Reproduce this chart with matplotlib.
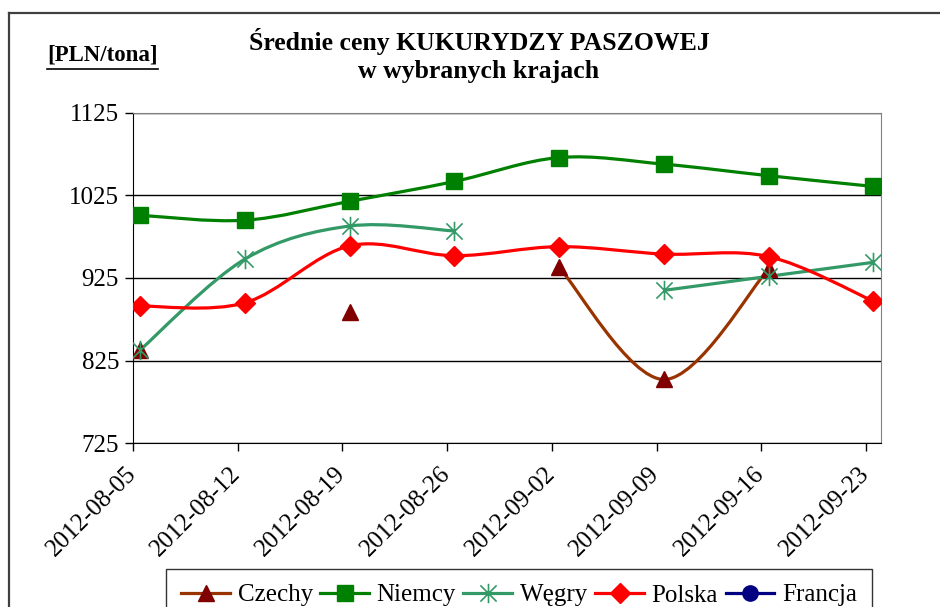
import numpy as np
import matplotlib
matplotlib.use('Agg')
from matplotlib import pyplot as plt
from matplotlib.path import Path
from matplotlib.patches import PathPatch
from matplotlib.lines import Line2D
import matplotlib.transforms as mtransforms

plt.rcParams['font.family'] = ['Liberation Serif', 'DejaVu Serif']

dates = ['2012-08-05', '2012-08-12', '2012-08-19', '2012-08-26',
         '2012-09-02', '2012-09-09', '2012-09-16', '2012-09-23']
czechy = [838, np.nan, 884, np.nan, 938, 802, 936, np.nan]
niemcy = [1001, 995, 1018, 1042, 1071, 1063, 1049, 1036]
wegry = [838, 948, 988, 982, np.nan, 910, 927, 944]
polska = [891, 895, 964, 952, 963, 954, 951, 897]
francja = [np.nan] * 8

# asterisk marker like the Excel star
star = Path([(-1, -1), (1, 1), (-1, 1), (1, -1), (0, -1.2), (0, 1.2)],
            [Path.MOVETO, Path.LINETO, Path.MOVETO, Path.LINETO, Path.MOVETO, Path.LINETO])


def smooth_path(xs, ys):
    # Catmull-Rom style bezier through the points (Excel "smoothed line")
    pts = np.column_stack([xs, ys])
    n = len(pts)
    verts = [pts[0]]
    codes = [Path.MOVETO]
    for i in range(n - 1):
        p0 = pts[i - 1] if i > 0 else pts[i]
        p1 = pts[i]
        p2 = pts[i + 1]
        p3 = pts[i + 2] if i + 2 < n else pts[i + 1]
        verts += [p1 + (p2 - p0) / 6, p2 - (p3 - p1) / 6, p2]
        codes += [Path.CURVE4] * 3
    return Path(verts, codes)


def draw_series(ax, x, y, lc, mc, marker, ms, mew=1.0):
    y = np.asarray(y, dtype=float)
    ok = ~np.isnan(y)
    i = 0
    while i < len(y):
        if ok[i]:
            j = i
            while j + 1 < len(y) and ok[j + 1]:
                j += 1
            if j > i:
                ax.add_patch(PathPatch(smooth_path(x[i:j + 1], y[i:j + 1]),
                                       fill=False, edgecolor=lc, lw=2.3, zorder=3))
            i = j + 1
        else:
            i += 1
    ax.plot(x, y, ls='none', marker=marker, ms=ms, color=mc, mec=mc, mew=mew, zorder=4)


fig = plt.figure(figsize=(9.4, 6.07), dpi=100)
ax = fig.add_axes([133 / 940, 1 - 443 / 607, (881 - 133) / 940, (443 - 113) / 607])

x = np.arange(len(dates)) + 0.07

series = [
    ('Czechy', czechy, '#993300', '#800000', '^', 12, 1.0),
    ('Niemcy', niemcy, '#008000', '#008000', 's', 11, 1.0),
    ('Węgry', wegry, '#339966', '#339966', star, 14, 1.2),
    ('Polska', polska, '#ff0000', '#ff0000', 'D', 10, 1.0),
    ('Francja', francja, '#000080', '#000080', 'o', 11, 1.0),
]
handles = []
for name, vals, lc, mc, mk, ms, mew in series:
    draw_series(ax, x, vals, lc, mc, mk, ms, mew)
    handles.append(Line2D([], [], color=lc, lw=2.3, marker=mk, ms=ms,
                          mfc=mc, mec=mc, mew=mew, label=name))

ax.set_xlim(0, 7.144)
ax.set_ylim(725, 1125)
ax.set_yticks([725, 825, 925, 1025, 1125])
ax.set_xticks(np.arange(len(dates)))
ax.set_xticklabels(dates, rotation=45, ha='right', va='top', rotation_mode='anchor')
ax.tick_params(labelsize=18, direction='out', length=6, width=1, pad=4, color='black')
ax.tick_params(axis='x', pad=8)
shift = mtransforms.ScaledTranslation(-8 / 100, 0, fig.dpi_scale_trans)
for lab in ax.get_xticklabels():
    lab.set_transform(lab.get_transform() + shift)
ax.yaxis.grid(True, color='black', lw=1)
ax.set_axisbelow(True)
for s in ['top', 'right']:
    ax.spines[s].set_color('#808080')
for s in ['left', 'bottom']:
    ax.spines[s].set_color('black')

fig.text(479 / 940, 1 - 50 / 607, 'Średnie ceny KUKURYDZY PASZOWEJ', ha='center', va='baseline',
         fontsize=18.5, fontweight='bold')
fig.text(479 / 940, 1 - 78 / 607, 'w wybranych krajach', ha='center', va='baseline',
         fontsize=18.5, fontweight='bold')
fig.text(47 / 940, 1 - 55 / 607, '[PLN/tona]', ha='left', va='center',
         fontsize=16.5, fontweight='bold')
fig.add_artist(Line2D([47 / 940, 158 / 940], [1 - 69 / 607, 1 - 69 / 607], color='black', lw=1.2))

# outer chart border
fig.add_artist(Line2D([9 / 940, 1], [1 - 13 / 607, 1 - 13 / 607], color='#404040', lw=1.6))
fig.add_artist(Line2D([9 / 940, 9 / 940], [0, 1 - 13 / 607], color='#404040', lw=1.6))

leg = fig.legend(handles=handles, loc='upper center', bbox_to_anchor=(519 / 940, 1 - 569 / 607),
                 ncol=5, fontsize=18, frameon=True, fancybox=False, handlelength=1.95,
                 handletextpad=0.3, columnspacing=0.3, borderpad=0.6, borderaxespad=0)
leg.get_frame().set_edgecolor('black')
leg.get_frame().set_linewidth(1.0)

fig.savefig('out.png', dpi=100)
